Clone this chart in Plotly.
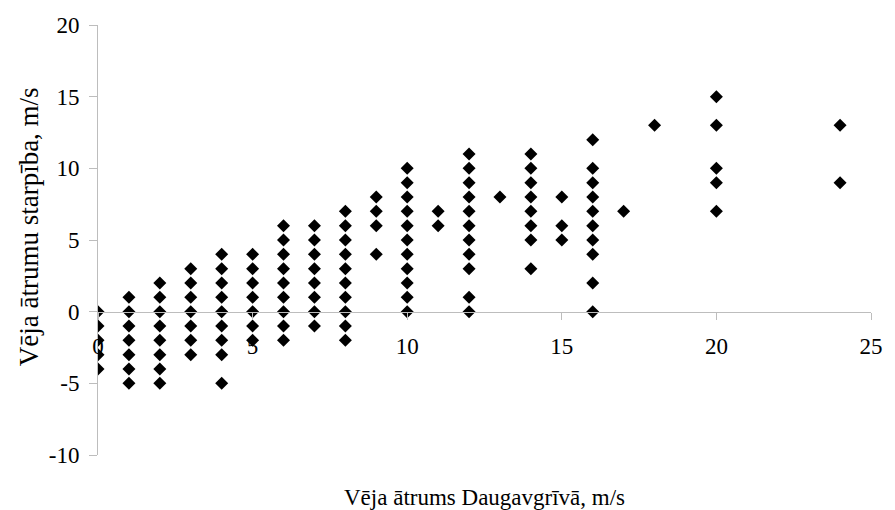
import plotly.graph_objects as go

# Wind speed at Daugavgrīva (x) and the wind speed difference (y), grouped by x value
x_speed = [0, 1, 2, 3, 4, 5, 6, 7, 8, 9, 10, 11, 12, 13, 14, 15, 16, 17, 18, 20, 24]
y_diff = [
    [0, -1, -2, -3, -4],
    [1, 0, -1, -2, -3, -4, -5],
    [2, 1, 0, -1, -2, -3, -4, -5],
    [3, 2, 1, 0, -1, -2, -3],
    [4, 3, 2, 1, 0, -1, -2, -3, -5],
    [4, 3, 2, 1, 0, -1, -2],
    [6, 5, 4, 3, 2, 1, 0, -1, -2],
    [6, 5, 4, 3, 2, 1, 0, -1],
    [7, 6, 5, 4, 3, 2, 1, 0, -1, -2],
    [8, 7, 6, 4],
    [10, 9, 8, 7, 6, 5, 4, 3, 2, 1, 0],
    [7, 6],
    [11, 10, 9, 8, 7, 6, 5, 4, 3, 1, 0],
    [8],
    [11, 10, 9, 8, 7, 6, 5, 3],
    [8, 6, 5],
    [12, 10, 9, 8, 7, 6, 5, 4, 2, 0],
    [7],
    [13],
    [15, 13, 10, 9, 7],
    [13, 9],
]

x_ticks = [0, 5, 10, 15, 20, 25]
x_tick_text = ["0", "5", "10", "15", "20", "25"]
y_ticks = [-10, -5, 0, 5, 10, 15, 20]
y_tick_text = ["-10", "-5", "0", "5", "10", "15", "20"]

x_title = "Vēja ātrums Daugavgrīvā, m/s"
y_title = "Vēja ātrumu starpība, m/s"

xs, ys = [], []
for xv, col in zip(x_speed, y_diff):
    for yv in col:
        xs.append(xv)
        ys.append(yv)

FONT = "Liberation Serif"
AXIS_GREY = "#bdbdbd"

fig = go.Figure(
    go.Scatter(
        x=xs,
        y=ys,
        mode="markers",
        marker=dict(symbol="diamond", size=10, color="black", line=dict(width=0)),
        showlegend=False,
    )
)

fig.update_layout(
    width=895,
    height=510,
    margin=dict(l=98, r=14, t=25, b=55),
    paper_bgcolor="white",
    plot_bgcolor="white",
    font=dict(family=FONT, color="black", size=23),
    xaxis=dict(
        range=[0, 25],
        tickmode="array",
        tickvals=x_ticks,
        ticktext=x_tick_text,
        showgrid=False,
        zeroline=False,
        showline=True,
        linecolor=AXIS_GREY,
        linewidth=1,
        ticks="outside",
        ticklen=7,
        tickcolor=AXIS_GREY,
        tickfont=dict(family=FONT, size=23, color="black"),
        ticklabelstandoff=7,
        anchor="free",
        position=1 / 3,
    ),
    yaxis=dict(
        range=[-10, 20],
        tickmode="array",
        tickvals=y_ticks,
        ticktext=y_tick_text,
        showgrid=False,
        zeroline=False,
        showline=True,
        linecolor=AXIS_GREY,
        linewidth=1,
        ticks="outside",
        ticklen=8,
        tickcolor=AXIS_GREY,
        tickfont=dict(family=FONT, size=23, color="black"),
        ticklabelstandoff=5,
    ),
    annotations=[
        dict(
            text=x_title,
            xref="paper",
            yref="paper",
            x=0.5,
            y=-0.098,
            xanchor="center",
            yanchor="middle",
            showarrow=False,
            font=dict(family=FONT, size=23, color="black"),
        ),
        dict(
            text=y_title,
            xref="paper",
            yref="paper",
            x=-0.089,
            y=0.53,
            xanchor="center",
            yanchor="middle",
            textangle=-90,
            showarrow=False,
            font=dict(family=FONT, size=27, color="black"),
        ),
    ],
)

fig.write_html("out.html")
